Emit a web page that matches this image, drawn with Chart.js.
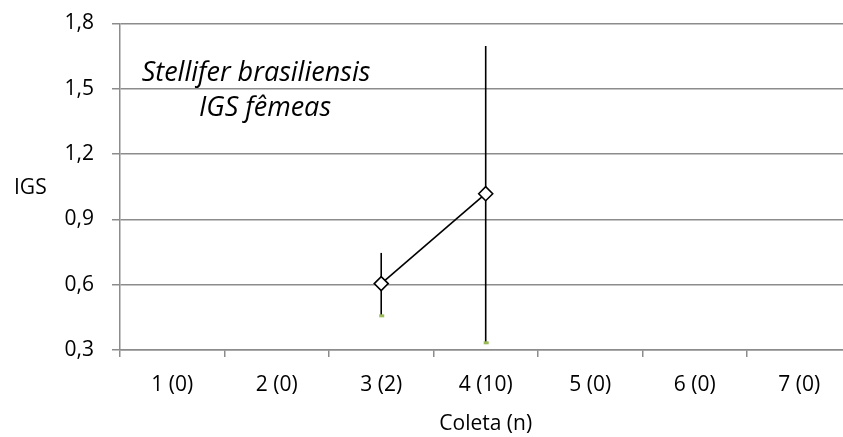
<!DOCTYPE html>
<html lang="pt">
<head>
<meta charset="UTF-8">
<title>IGS fêmeas - Stellifer brasiliensis</title>
<script src="https://cdn.jsdelivr.net/npm/chart.js"></script>
<style>
    html, body { margin: 0; padding: 0; background: #fff; overflow: hidden; }
    .chart-box { width: 860px; height: 437px; }
</style>
</head>
<body>
<div class="chart-box"><canvas id="igsChart"></canvas></div>
<script>
// dados
const coletas = ['1 (0)', '2 (0)', '3 (2)', '4 (10)', '5 (0)', '6 (0)', '7 (0)'];
const igsMedia = [null, null, 0.605, 1.018, null, null, null];
const igsMin = [null, null, 0.457, 0.333, null, null, null];
const igsMax = [null, null, 0.746, 1.697, null, null, null];
const yTicks = [0.3, 0.6, 0.9, 1.2, 1.5, 1.8];

const GRID = '#8c8c8c';
const FONT = 'Open Sans';

// barras de erro verticais, desenhadas antes dos marcadores
const errorBars = {
    id: 'errorBars',
    beforeDatasetsDraw(chart) {
        const { ctx, scales: { x, y } } = chart;
        ctx.save();
        igsMedia.forEach((v, i) => {
            if (v === null) return;
            const px = x.getPixelForValue(i);
            const top = y.getPixelForValue(igsMax[i]);
            const bot = y.getPixelForValue(igsMin[i]);
            ctx.strokeStyle = '#000';
            ctx.lineWidth = 1.6;
            ctx.beginPath();
            ctx.moveTo(px, top);
            ctx.lineTo(px, bot);
            ctx.stroke();
            ctx.fillStyle = '#9bbb59';
            ctx.fillRect(px - 2, bot - 1.5, 5, 3);
        });
        ctx.restore();
    }
};

// textos soltos: titulo dentro do grafico e rotulo IGS horizontal
const labels = {
    id: 'labels',
    afterDraw(chart) {
        const ctx = chart.ctx;
        ctx.save();
        ctx.fillStyle = '#000';
        ctx.textAlign = 'center';
        ctx.textBaseline = 'alphabetic';
        ctx.font = 'italic 27px "' + FONT + '"';
        ctx.fillText('Stellifer brasiliensis', 256, 81);
        ctx.fillText('IGS fêmeas', 265, 116);
        ctx.textAlign = 'left';
        ctx.textBaseline = 'middle';
        ctx.font = '21px "' + FONT + '"';
        ctx.fillText('IGS', 14, 188);
        ctx.restore();
    }
};

new Chart(document.getElementById('igsChart'), {
    type: 'line',
    data: {
        labels: coletas,
        datasets: [{
            data: igsMedia,
            borderColor: '#000',
            borderWidth: 1.6,
            pointStyle: 'rectRot',
            pointRadius: 7,
            pointHoverRadius: 7,
            pointBackgroundColor: '#fff',
            pointBorderColor: '#000',
            pointBorderWidth: 1.6,
            tension: 0
        }]
    },
    options: {
        responsive: true,
        maintainAspectRatio: false,
        animation: false,
        layout: { padding: { top: 23.5, right: 7, bottom: 0, left: 0 } },
        plugins: {
            legend: { display: false },
            tooltip: { enabled: false }
        },
        scales: {
            x: {
                afterFit(s) { s.height = 87; s.paddingLeft = 0; s.paddingRight = 0; },
                offset: true,
                grid: {
                    offset: true,
                    drawOnChartArea: false,
                    color: GRID,
                    lineWidth: 1.5,
                    tickLength: 7
                },
                border: { display: true, color: GRID, width: 1.5 },
                ticks: {
                    color: '#000',
                    padding: 15,
                    maxRotation: 0,
                    font: { family: FONT, size: 21 }
                },
                title: {
                    display: true,
                    text: 'Coleta (n)',
                    color: '#000',
                    font: { family: FONT, size: 21 },
                    padding: { top: 0, bottom: 0 }
                }
            },
            y: {
                afterFit(s) { s.width = 120; s.paddingTop = 0; s.paddingBottom = 0; },
                min: 0.3,
                max: 1.8,
                afterBuildTicks(s) { s.ticks = yTicks.map(v => ({ value: v })); },
                grid: {
                    color: GRID,
                    lineWidth: 1.5,
                    tickLength: 8
                },
                border: { display: true, color: GRID, width: 1.5 },
                ticks: {
                    color: '#000',
                    padding: 18,
                    font: { family: FONT, size: 21 },
                    callback: v => v.toFixed(1).replace('.', ',')
                }
            }
        }
    },
    plugins: [errorBars, labels]
});
</script>
</body>
</html>
